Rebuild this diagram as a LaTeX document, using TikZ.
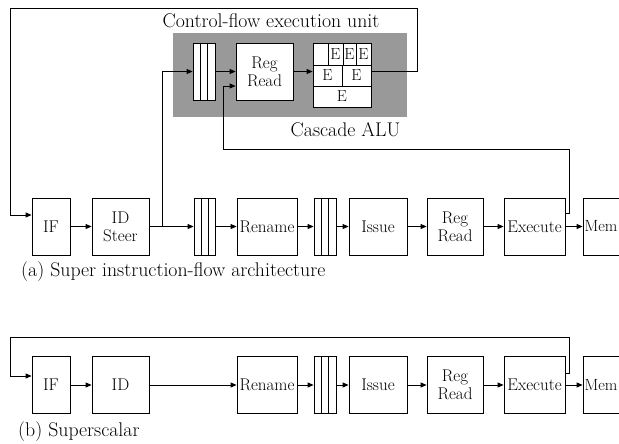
\documentclass[tikz,border=0pt]{standalone}
\usetikzlibrary{arrows.meta,calc}
\definecolor{cfugray}{RGB}{153,153,153}
\begin{document}
\begin{tikzpicture}[x=1pt,y=-1pt,
  stage/.style={draw, line width=0.8pt, fill=white, inner sep=0pt, align=center,
    minimum height=57pt, font=\fontsize{17}{18}\selectfont},
  memstage/.style={stage, minimum width=60pt, text width=57pt, align=left, font=\fontsize{16.2}{17}\selectfont},
  qbox/.style={draw, line width=0.8pt, fill=white, inner sep=0pt, minimum width=22pt, minimum height=57pt,
    path picture={
      \draw[line width=0.8pt] ($(path picture bounding box.north west)!1/3!(path picture bounding box.north east)$) -- ($(path picture bounding box.south west)!1/3!(path picture bounding box.south east)$);
      \draw[line width=0.8pt] ($(path picture bounding box.north west)!2/3!(path picture bounding box.north east)$) -- ($(path picture bounding box.south west)!2/3!(path picture bounding box.south east)$);
    }},
  ecell/.style={draw, line width=0.8pt, inner sep=0pt, font=\fontsize{16}{17}\selectfont},
  lbl/.style={inner sep=0pt, font=\fontsize{19.8}{21}\selectfont},
  flow/.style={line width=0.8pt, -{Triangle[length=6pt,width=5pt]}},
  ]
\useasboundingbox (0,0) rectangle (619,444);
\clip (0,0) rectangle (619,444);

% ---------- control-flow execution unit ----------
\node[lbl] (title) at (271,21) {Control-flow execution unit};
\node[fill=cfugray, minimum width=234pt, minimum height=84pt, inner sep=0pt] (cfu) at (290,75) {};
\node[qbox] (q3) at (204,71.5) {};
\node[stage, minimum width=57pt] (rr2) at (264.5,71.5) {Reg\\Read};
\node[draw, line width=0.8pt, fill=white, minimum width=58pt, minimum height=64pt, inner sep=0pt] (alu) at (342,75) {};
\node[ecell, minimum width=15pt, minimum height=22pt] (e1) at (335.5,54) {E};
\node[ecell, minimum width=13pt, minimum height=22pt] (e2) at (349.5,54) {E};
\node[ecell, minimum width=15pt, minimum height=22pt] (e3) at (363.5,54) {E};
\node[ecell, minimum width=29pt, minimum height=21pt] (e4) at (327.5,75.5) {E};
\node[ecell, minimum width=29pt, minimum height=21pt] (e5) at (356.5,75.5) {E};
\node[ecell, minimum width=58pt, minimum height=21pt] (e6) at (342,96.5) {E};
\node[lbl] (alulbl) at (345.5,130) {Cascade ALU};

% ---------- (a) super instruction-flow ----------
\node[stage, minimum width=38pt] (if1) at (51,226.5) {IF};
\node[stage, minimum width=57pt] (ids) at (120.5,226.5) {ID\\Steer};
\node[qbox, minimum width=21pt] (q1) at (204.5,226.5) {};
\node[stage, minimum width=60pt] (ren1) at (267,226.5) {Rename};
\node[qbox] (q2) at (325,226.5) {};
\node[stage, minimum width=58pt] (iss1) at (378,226.5) {Issue};
\node[stage, minimum width=56pt] (rr1) at (455,226.5) {Reg\\Read};
\node[stage, minimum width=61pt] (ex1) at (534.5,226.5) {Execute};
\node[memstage] (mem1) at (613,226.5) {Mem};
\node[lbl, anchor=west] (capa) at (21,272) {(a) Super instruction-flow architecture};

\draw[flow] (if1) -- (ids);
\draw[flow] (ids) -- (q1);
\draw[flow] (q1) -- (ren1);
\draw[flow] (ren1) -- (q2);
\draw[flow] (q2) -- (iss1);
\draw[flow] (iss1) -- (rr1);
\draw[flow] (rr1) -- (ex1);
\draw[flow] (ex1) -- (mem1);

\coordinate (br) at (162,226.5);
\draw[flow] (br) |- (q3.west);
\draw[flow] (q3) -- (rr2);
\draw[flow] (rr2.east) -- (rr2.east -| alu.west);
\coordinate (tr) at (417,8);
\coordinate (tl) at (10,8);
\draw[flow] (alu.east |- q3.east) -| (tr) -| (tl) |- ([yshift=11.5pt]if1.west);
\coordinate (fb1) at (569,149);
\coordinate (fb2) at (223,149);
\draw[flow] ([yshift=13.5pt]ex1.east) -| (fb1) -| (fb2) |- ([yshift=-14.5pt]rr2.west);

% ---------- (b) superscalar ----------
\node[stage, minimum width=38pt] (if2) at (51,385) {IF};
\node[stage, minimum width=57pt] (id2) at (120.5,385) {ID};
\node[stage, minimum width=60pt] (ren2) at (267,385) {Rename};
\node[qbox] (q4) at (325,385) {};
\node[stage, minimum width=58pt] (iss2) at (378,385) {Issue};
\node[stage, minimum width=56pt] (rr3) at (455,385) {Reg\\Read};
\node[stage, minimum width=61pt] (ex2) at (534.5,385) {Execute};
\node[memstage] (mem2) at (613,385) {Mem};
\node[lbl, anchor=west] (capb) at (18,432) {(b) Superscalar};

\draw[flow] (if2) -- (id2);
\draw[flow] (id2) -- (ren2);
\draw[flow] (ren2) -- (q4);
\draw[flow] (q4) -- (iss2);
\draw[flow] (iss2) -- (rr3);
\draw[flow] (rr3) -- (ex2);
\draw[flow] (ex2) -- (mem2);
\coordinate (tr2) at (569,337);
\coordinate (tl2) at (10,337);
\draw[flow] ([yshift=12pt]ex2.east) -| (tr2) -| (tl2) |- ([yshift=9pt]if2.west);
\end{tikzpicture}
\end{document}
